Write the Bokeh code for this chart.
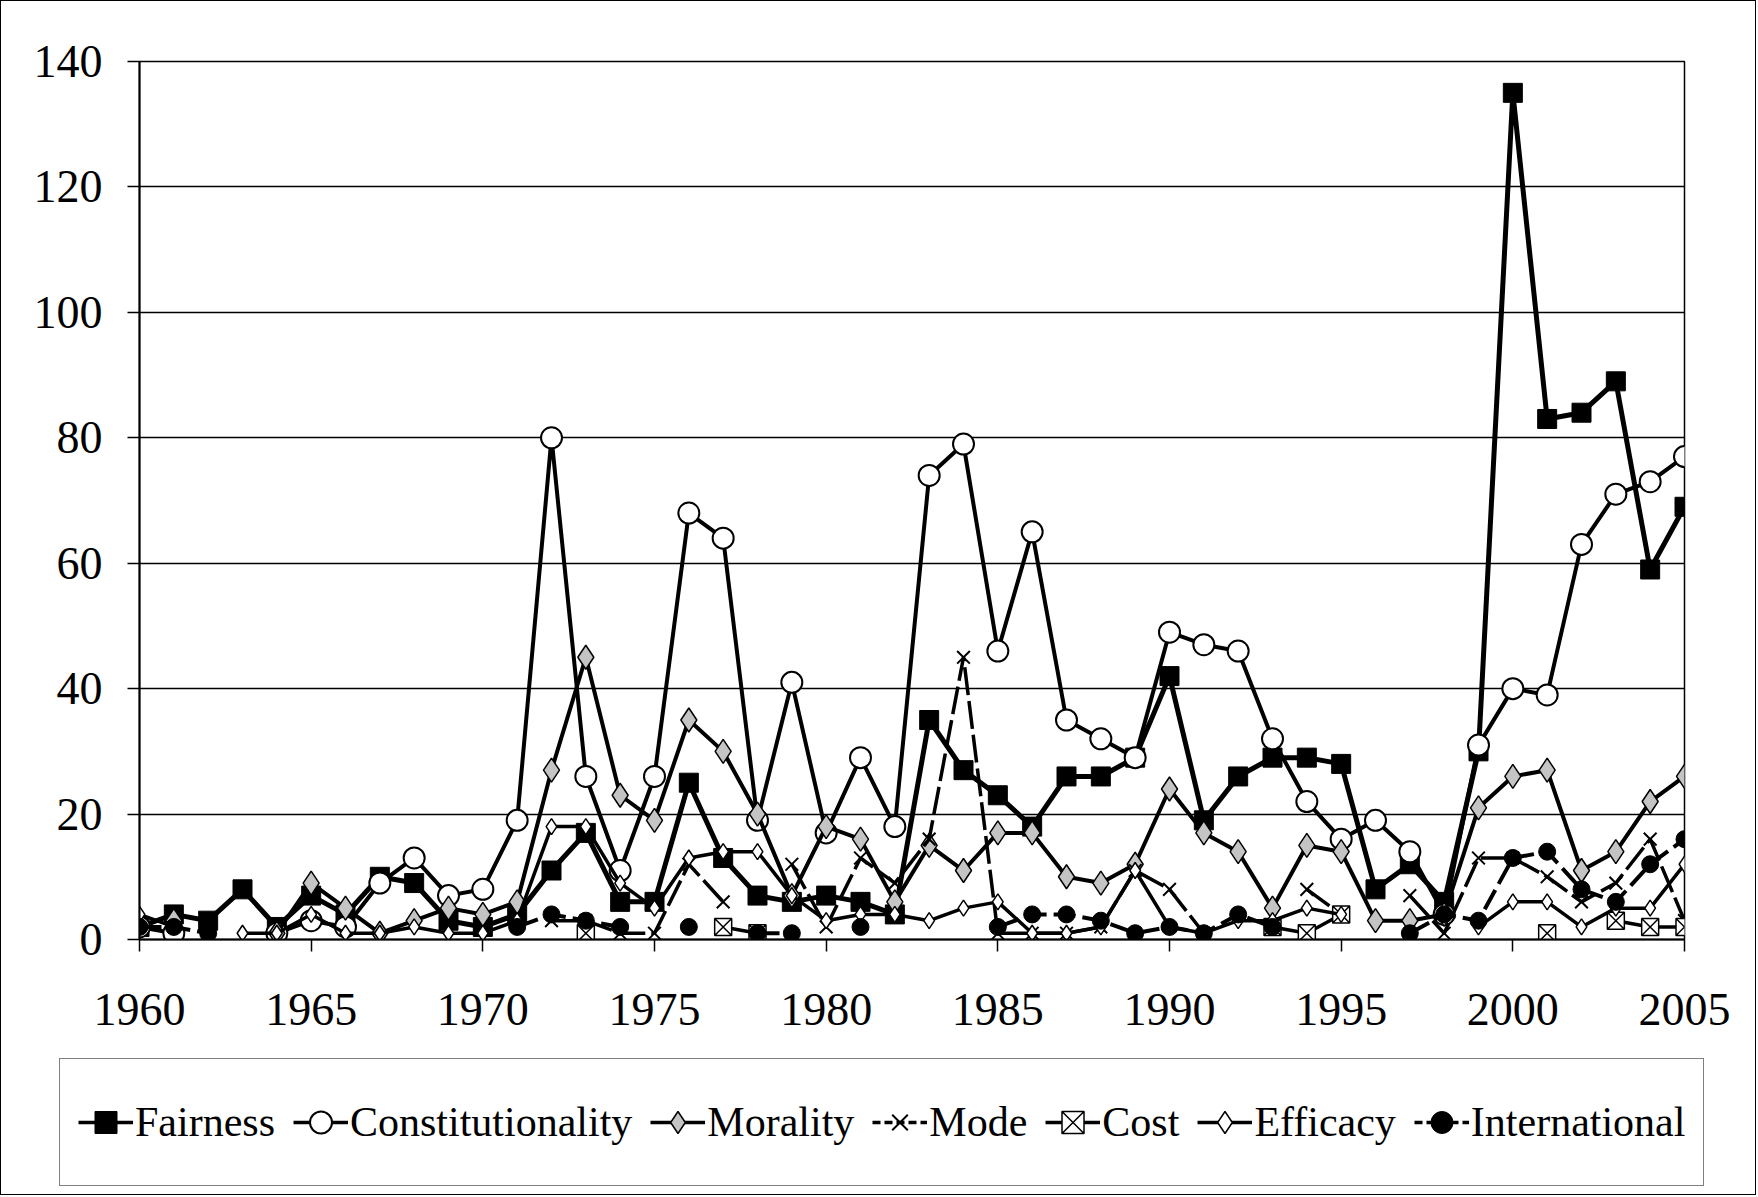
import math
from bokeh.plotting import figure
from bokeh.models import Legend, LegendItem, FixedTicker, Range1d
from bokeh.embed import file_html
from bokeh.resources import INLINE

nan = math.nan
years = list(range(1960, 2006))

fairness = [2, 4, 3, 8, 2, 7, 4, 10, 9, 3,
            2, 4, 11, 17, 6, 6, 25, 13, 7, 6,
            7, 6, 4, 35, 27, 23, 18, 26, 26, 29,
            42, 19, 26, 29, 29, 28, 8, 12, 6, 30,
            135, 83, 84, 89, 59, 69]
constitutionality = [2, 1, nan, nan, 1, 3, 2, 9, 13, 7,
                     8, 19, 80, 26, 11, 26, 68, 64, 19, 41,
                     17, 29, 18, 74, 79, 46, 65, 35, 32, 29,
                     49, 47, 46, 32, 22, 16, 19, 14, 4, 31,
                     40, 39, 63, 71, 73, 77]
morality = [nan, 3, nan, nan, 1, 9, 5, 1, 3, 5,
            4, 6, 27, 45, 23, 19, 35, 30, 20, 7,
            18, 16, 6, 15, 11, 17, 17, 10, 9, 12,
            24, 17, 14, 5, 15, 14, 3, 3, 4, 21,
            26, 27, 11, 14, 22, 26]
mode = [nan, nan, nan, nan, nan, nan, nan, nan, nan, nan,
        nan, nan, 3, 3, 1, 1, 12, 6, nan, 12,
        2, 13, 9, 16, 45, 1, 1, 1, 2, 11,
        8, 1, nan, nan, 8, 4, nan, 7, 1, 13,
        13, 10, 6, 9, 16, 3]
cost = [nan, nan, nan, nan, nan, nan, nan, nan, nan, nan,
        nan, nan, nan, 1, nan, nan, nan, 2, 1, nan,
        nan, nan, nan, nan, nan, nan, nan, nan, nan, nan,
        nan, nan, nan, 2, 1, 4, nan, nan, nan, nan,
        nan, 1, nan, 3, 2, 2]
efficacy = [4, 2, nan, 1, 1, 4, 1, 1, 2, 1,
            1, 3, 18, 18, 9, 5, 13, 14, 14, 7,
            3, 4, 4, 3, 5, 6, 1, 1, 2, 11,
            2, 1, 3, 3, 5, 4, nan, nan, nan, 2,
            6, 6, 2, 5, 5, 12]
international = [2, 2, 1, nan, nan, nan, nan, nan, nan, nan,
                 nan, 2, 4, 3, 2, nan, 2, nan, 1, 1,
                 nan, 2, nan, nan, nan, 2, 4, 4, 3, 1,
                 2, 1, 4, 2, nan, nan, nan, 1, 4, 3,
                 13, 14, 8, 6, 12, 16]

x_ticks = list(range(1960, 2006, 5))
y_ticks = list(range(0, 141, 20))

FONT = "Liberation Serif"
W = 1756
H1 = 1050
H2 = 145

p = figure(width=W, height=H1, x_range=Range1d(1960, 2005), y_range=Range1d(0, 140),
           output_backend="svg", toolbar_location=None, title=None,
           min_border_left=138, min_border_right=73, min_border_top=60, min_border_bottom=H1 - 938)
p.background_fill_color = "white"
p.border_fill_color = "white"
p.outline_line_color = "black"
p.outline_line_width = 1.5
p.styles = {"border-left": "1px solid black", "border-right": "1px solid black",
            "border-top": "1px solid black"}

for ax in (p.xaxis[0], p.yaxis[0]):
    ax.axis_line_color = "black"
    ax.axis_line_width = 2
    ax.major_tick_line_color = "black"
    ax.major_tick_line_width = 1.5
    ax.major_tick_in = 0
    ax.major_tick_out = 12
    ax.minor_tick_line_color = None
    ax.major_label_text_font = FONT
    ax.major_label_text_font_size = "46px"
    ax.major_label_text_color = "black"

p.xaxis.ticker = FixedTicker(ticks=x_ticks)
p.yaxis.ticker = FixedTicker(ticks=y_ticks)
p.xaxis.major_label_standoff = 42
p.yaxis.major_label_standoff = 25
p.xgrid.visible = False
p.ygrid.ticker = FixedTicker(ticks=y_ticks)
p.ygrid.grid_line_color = "black"
p.ygrid.grid_line_width = 1.5

series = [
    ("Fairness", fairness, None, 5, dict(marker="square", size=19, fill_color="black", line_color="black", line_width=1)),
    ("Constitutionality", constitutionality, None, 4, dict(marker="circle", size=21, fill_color="white", line_color="black", line_width=2)),
    ("Morality", morality, None, 4, dict(marker="diamond", size=24, fill_color="#c4c4c4", line_color="black", line_width=1.5)),
    ("Mode", mode, "28 6", 3.5, dict(marker="x", size=18, fill_color=None, line_color="black", line_width=2)),
    ("Cost", cost, None, 3.5, dict(marker="square_x", size=17, fill_color="white", line_color="black", line_width=1.5)),
    ("Efficacy", efficacy, None, 3.5, dict(marker="diamond", size=16, fill_color="white", line_color="black", line_width=1.5)),
    ("International", international, "22 7", 4, dict(marker="circle", size=17, fill_color="black", line_color="black", line_width=1)),
]

# separate legend figure (own root, full-width frame)
p2 = figure(width=W, height=H2, x_range=Range1d(0, 1), y_range=Range1d(0, 1),
            output_backend="svg", toolbar_location=None, title=None,
            x_axis_type=None, y_axis_type=None,
            min_border_left=0, min_border_right=0, min_border_top=0, min_border_bottom=0)
p2.grid.visible = False
p2.outline_line_color = None
p2.background_fill_color = "white"
p2.border_fill_color = "white"
p2.styles = {"border-left": "1px solid black", "border-right": "1px solid black",
             "border-bottom": "1px solid black"}

items = []
for name, vals, dash, lw, mk in series:
    lkw = dict(line_color="black", line_width=lw)
    if dash:
        lkw["line_dash"] = dash
    p.line(years, vals, **lkw)
    p.scatter(years, vals, **mk)
    lkw2 = dict(lkw)
    lkw2["line_width"] = 3.5
    lkw2["line_dash"] = "8 4" if dash else "solid"
    lr = p2.line([-5, -4], [-5, -4], **lkw2)
    mk2 = dict(mk)
    mk2["size"] = max(mk["size"] - 5, 10)
    sr = p2.scatter([-5], [-5], **mk2)
    items.append(LegendItem(label=name, renderers=[lr, sr]))

legend = Legend(items=items, orientation="horizontal", location=(58, 9),
                border_line_color="black", border_line_width=1.5,
                background_fill_color="white", background_fill_alpha=1,
                label_text_font=FONT, label_text_font_size="42px", label_text_color="black",
                glyph_width=55, glyph_height=90, label_standoff=2, spacing=18,
                padding=18, margin=0)
p2.add_layout(legend)

open("out.html", "w").write(file_html([p, p2], INLINE))
